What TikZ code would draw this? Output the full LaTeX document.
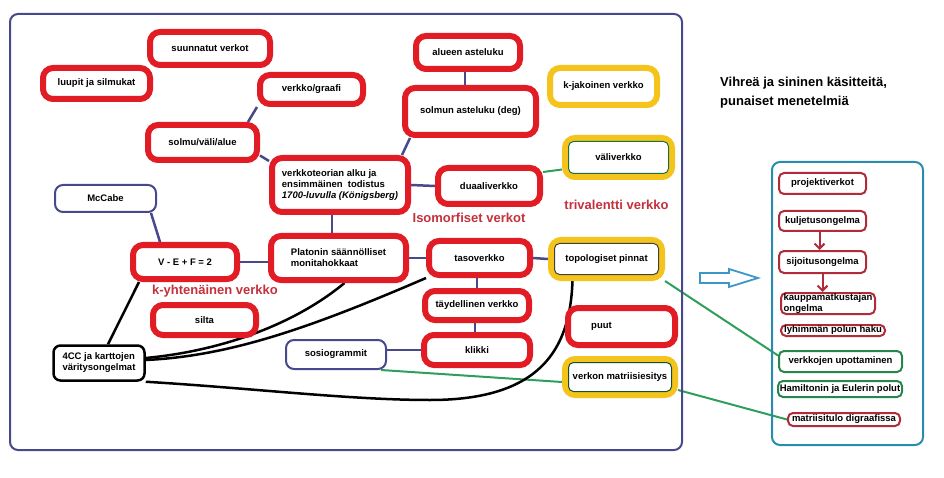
\documentclass[tikz,border=0pt]{standalone}
\usepackage{fontspec}
\setmainfont{Liberation Sans}
\usetikzlibrary{arrows.meta}
\usetikzlibrary{backgrounds}

\definecolor{puna}{RGB}{226,28,36}
\definecolor{kelta}{RGB}{245,196,28}
\definecolor{laivasto}{RGB}{72,72,140}
\definecolor{vihrea}{RGB}{46,158,92}
\definecolor{punateksti}{RGB}{196,48,60}
\definecolor{tummapuna}{RGB}{176,44,56}
\definecolor{turkoosi}{RGB}{40,140,175}
\definecolor{nuolisini}{RGB}{60,150,200}

\begin{document}
\begin{tikzpicture}[x=1pt, y=-1pt,
    every node/.style={font=\fontsize{9.5}{11}\selectfont\bfseries, fill=white, inner sep=1pt},
    koko/.style 2 args={minimum width=#1, minimum height=#2},
    punainen/.style={draw=puna, line width=6pt, rounded corners=10pt},
    keltainen/.style={draw=kelta, line width=6pt, rounded corners=10pt},
    sisareuna/.style={line width=1pt, rounded corners=5pt},
    sininen/.style={draw=laivasto, line width=2pt, rounded corners=8pt},
    musta/.style={draw=black, line width=2.5pt, rounded corners=7pt},
    menetelma/.style={draw=tummapuna, line width=2pt, rounded corners=5pt, inner ysep=0pt},
    kasite/.style={draw=vihrea!85!black, line width=2pt, rounded corners=5pt, inner ysep=0pt},
    otsikko/.style={text=punateksti, fill=none, font=\fontsize{13}{15}\selectfont\bfseries},
    yhteys/.style={draw=laivasto, line width=2.5pt},
    vihrea yhteys/.style={draw=vihrea, line width=2pt},
    kaari/.style={draw=black, line width=2.5pt},
    nuoli/.style={draw=tummapuna, line width=2pt, -{Straight Barb[length=5pt,width=10pt]}}
  ]
    \useasboundingbox (0,0) rectangle (944,478);
    \draw[laivasto, line width=2pt, rounded corners=8pt] (10,14) rectangle (682,450);

    % vasen kartta
    \node[punainen, koko={120}{33}] (suunnatut) at (210,48.5) {suunnatut verkot};
    \node[punainen, koko={107}{31}] (luupit) at (96.5,83.5) {luupit ja silmukat};
    \node[punainen, koko={103}{29}] (graafi) at (311.5,89.5) {verkko/graafi};
    \node[punainen, koko={109}{35}] (solmu) at (202.5,142.5) {solmu/väli/alue};
    \node[punainen, koko={136}{54}, align=left] (teoria) at (340,185)
        {verkkoteorian alku ja\\ensimmäinen\ \ todistus\\\textit{1700-luvulla (Königsberg)}};
    \node[punainen, koko={104}{33}] (alueen) at (468,52.5) {alueen asteluku};
    \node[punainen, koko={131}{47}] (solmunaste) at (470.5,111.5) {solmun asteluku (deg)};
    \node[punainen, koko={102}{36}] (duaali) at (489,186) {duaaliverkko};
    \node[sininen, koko={101}{27}] (mccabe) at (105.5,198.5) {McCabe};
    \node[punainen, koko={104}{34}] (vef) at (185,262) {V - E + F = 2};
    \node[punainen, koko={135}{44}, align=left] (platon) at (338.5,258)
        {Platonin säännölliset\\monitahokkaat};
    \node[punainen, koko={101}{34}] (taso) at (479.5,258) {tasoverkko};
    \node[punainen, koko={103}{30}] (silta) at (204.5,320) {silta};
    \node[punainen, koko={104}{29}] (taydellinen) at (477,305.5) {täydellinen verkko};
    \node[punainen, koko={107}{37}] (puut) at (621.5,326.5) {puut\kern40pt};
    \node[punainen, koko={106}{30}] (klikki) at (477,350) {klikki};
    \node[sininen, koko={100}{29}] (sosio) at (336,354.5) {sosiogrammit};
    \node[musta, koko={91}{35}, align=left] (neljavari) at (99,363)
        {4CC ja karttojen\\väritysongelmat};
    \node[keltainen, koko={107}{37}] (kjakoinen) at (603.5,86.5) {k-jakoinen verkko};
    \node[keltainen, koko={107}{39}] (vali) at (618.5,157.5) {väliverkko};
    \node[keltainen, koko={111}{38}] (topo) at (606.5,259) {topologiset pinnat};
    \node[keltainen, koko={110}{36}] (matriisi) at (620,377) {verkon matriisiesitys};
    \draw[sisareuna, vihrea!70!black] ([shift={(6.5pt,-6.5pt)}]vali.north west) rectangle ([shift={(-6.5pt,6.5pt)}]vali.south east);
    \draw[sisareuna, black!75] ([shift={(6.5pt,-6.5pt)}]topo.north west) rectangle ([shift={(-6.5pt,6.5pt)}]topo.south east);
    \draw[sisareuna, vihrea!50!black] ([shift={(6.5pt,-6.5pt)}]matriisi.north west) rectangle ([shift={(-6.5pt,6.5pt)}]matriisi.south east);

    \node[otsikko] (isomorfiset) at (469,218) {Isomorfiset verkot};
    \node[otsikko] (trivalentti) at (616.5,205) {trivalentti verkko};
    \node[otsikko] (kyhtenainen) at (215,291) {k-yhtenäinen verkko};

    % oikea puoli
    \node[fill=none, anchor=west, align=left, font=\fontsize{13}{19}\selectfont\bfseries] (selite)
        at (719,92.5) {Vihreä ja sininen käsitteitä,\\punaiset menetelmiä};
    \draw[nuolisini, line width=1.8pt, line join=miter, fill=white]
        (700,273) -- (729,273) -- (729,269) -- (758,278) -- (729,287) -- (729,283) -- (700,283) -- cycle;
    \draw[turkoosi, line width=2pt, rounded corners=8pt] (772,162) rectangle (923,445);

    \node[menetelma, koko={87}{21}] (projekti) at (822.5,183.5) {projektiverkot};
    \node[menetelma, koko={87}{20}] (kuljetus) at (822.5,221) {kuljetusongelma};
    \node[menetelma, koko={87}{22}] (sijoitus) at (822.5,262) {sijoitusongelma};
    \node[menetelma, koko={94}{21}, align=left, font=\fontsize{9.5}{10.5}\selectfont\bfseries]
        (kauppa) at (828,303.5) {kauppamatkustajan\\ongelma};
    \node[menetelma, koko={104}{11}] (lyhin) at (833,330.5) {lyhimmän polun haku};
    \node[kasite, koko={123}{21}] (upotus) at (840.5,361.5) {verkkojen upottaminen};
    \node[kasite, koko={124}{16}] (hamilton) at (840,389) {Hamiltonin ja Eulerin polut};
    \node[menetelma, koko={112}{13}] (tulo) at (844,419.5) {matriisitulo digraafissa};

    \draw[nuoli] ([xshift=-3pt]kuljetus.south) -- ([xshift=-3pt]kuljetus.south |- sijoitus.north);
    \draw[nuoli] (sijoitus.south) -- (sijoitus.south |- kauppa.north);

    \begin{scope}[on background layer]
        \draw[yhteys] (graafi.south west) -- ([xshift=-12pt]solmu.north east);
        \draw[yhteys] ([yshift=-13pt]solmu.east) -- ([yshift=24pt]teoria.west);
        \draw[yhteys] ([xshift=62pt]teoria.north) -- ([xshift=8pt]solmunaste.south west);
        \draw[yhteys] ([xshift=-3pt]alueen.south) -- ([xshift=-3pt]alueen.south |- solmunaste.north);
        \draw[yhteys] (teoria.east) -- (duaali.west);
        \draw[yhteys] ([xshift=-8pt]teoria.south) -- ([xshift=-8pt]teoria.south |- platon.north);
        \draw[yhteys] ([xshift=-6pt]mccabe.south east) -- ([xshift=30pt]vef.north west);
        \draw[yhteys] (vef.east) -- (vef.east -| platon.west);
        \draw[yhteys] (platon.east) -- (taso.west);
        \draw[yhteys] (taso.east) -- (topo.west);
        \draw[yhteys] (taydellinen.north |- taso.south) -- (taydellinen.north);
        \draw[yhteys] ([xshift=-2pt]taydellinen.south) -- ([xshift=-2pt]taydellinen.south |- klikki.north);
        \draw[yhteys] (sosio.east |- klikki.west) -- (klikki.west);

        \draw[vihrea yhteys] ([yshift=14pt]duaali.east) -- ([yshift=-12pt]vali.west);
        \draw[vihrea yhteys] (topo.south east) -- ([yshift=6pt]upotus.west);
        \draw[vihrea yhteys] ([xshift=-6pt]sosio.south east) -- ([yshift=-5pt]matriisi.west);
        \draw[vihrea yhteys] ([yshift=-13pt]matriisi.east) -- (tulo.west);

        \draw[kaari] ([xshift=9pt]neljavari.north) -- ([xshift=9pt]vef.south west);
        \draw[kaari] ([yshift=5pt]neljavari.east) .. controls (230,350) and (300,320) .. ([xshift=6pt]platon.south);
        \draw[kaari] ([yshift=3pt]neljavari.east) .. controls (230,356) and (310,328) .. (taso.south west);
        \draw[kaari] ([xshift=-34pt]topo.south) .. controls (570,350) and (540,400) .. (430,400)
            .. controls (350,400) and (250,388) .. (neljavari.south east);
    \end{scope}
\end{tikzpicture}
\end{document}
